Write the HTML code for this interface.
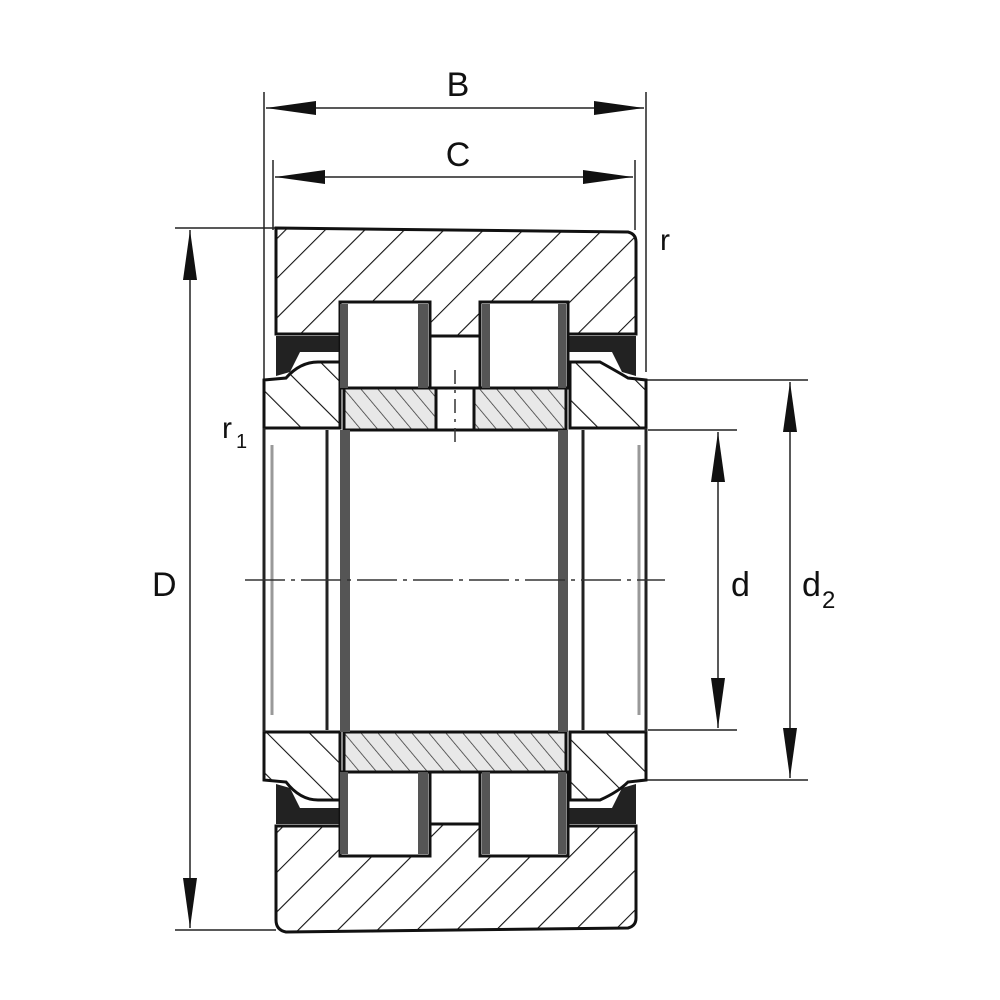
<!DOCTYPE html>
<html><head><meta charset="utf-8"><style>
html,body{margin:0;padding:0;background:#fff;}
svg{display:block;}
text{font-family:"Liberation Sans",sans-serif;fill:#111;}
</style></head><body>
<svg width="1000" height="1000" viewBox="0 0 1000 1000" xmlns="http://www.w3.org/2000/svg">
<defs>
<pattern id="hA" width="28" height="28" patternUnits="userSpaceOnUse" patternTransform="rotate(45)">
<line x1="0" y1="0" x2="0" y2="28" stroke="#111" stroke-width="2.2"/></pattern>
<pattern id="hB" width="30" height="30" patternUnits="userSpaceOnUse" patternTransform="rotate(-45)">
<line x1="0" y1="0" x2="0" y2="30" stroke="#111" stroke-width="2.2"/></pattern>
<pattern id="hC" width="13" height="13" patternUnits="userSpaceOnUse" patternTransform="rotate(-40)">
<rect width="13" height="13" fill="#e8e8e8"/>
<line x1="0" y1="0" x2="0" y2="13" stroke="#333" stroke-width="1.5"/></pattern>
<marker id="ar" viewBox="0 0 50 14" refX="50" refY="7" markerWidth="50" markerHeight="14" markerUnits="userSpaceOnUse" orient="auto-start-reverse">
<path d="M0,0 L50,7 L0,14 Z" fill="#111"/></marker>
</defs>

<!-- dimension lines -->
<g stroke="#222" stroke-width="1.5" fill="none">
<line x1="264" y1="92" x2="264" y2="380"/>
<line x1="646" y1="92" x2="646" y2="372"/>
<line x1="273" y1="160" x2="273" y2="230"/>
<line x1="635" y1="160" x2="635" y2="230"/>
<line x1="266" y1="108" x2="644" y2="108" marker-start="url(#ar)" marker-end="url(#ar)"/>
<line x1="275" y1="177" x2="633" y2="177" marker-start="url(#ar)" marker-end="url(#ar)"/>
<line x1="175" y1="228" x2="276" y2="228"/>
<line x1="175" y1="930" x2="276" y2="930"/>
<line x1="190" y1="230" x2="190" y2="928" marker-start="url(#ar)" marker-end="url(#ar)"/>
<line x1="640" y1="380" x2="808" y2="380"/>
<line x1="640" y1="780" x2="808" y2="780"/>
<line x1="648" y1="430" x2="737" y2="430"/>
<line x1="648" y1="730" x2="737" y2="730"/>
<line x1="790" y1="382" x2="790" y2="778" marker-start="url(#ar)" marker-end="url(#ar)"/>
<line x1="718" y1="432" x2="718" y2="728" marker-start="url(#ar)" marker-end="url(#ar)"/>
</g>

<!-- outer ring top -->
<path d="M276,228 L628,232 Q636,234 636,242 L636,334 L568,334 L568,302 L480,302 L480,336 L430,336 L430,302 L340,302 L340,334 L276,334 Z" fill="url(#hA)" stroke="#111" stroke-width="3"/>
<!-- outer ring bottom -->
<path d="M276,826 L340,826 L340,856 L430,856 L430,824 L480,824 L480,856 L568,856 L568,826 L636,826 L636,918 Q636,926 628,928 L286,932 Q276,930 276,920 Z" fill="url(#hA)" stroke="#111" stroke-width="3"/>

<!-- seals -->
<g fill="#222">
<path d="M276,336 L340,336 L340,352 L300,352 L290,372 L276,376 Z"/>
<path d="M568,336 L636,336 L636,376 L622,372 L612,352 L568,352 Z"/>
<path d="M276,824 L340,824 L340,808 L300,808 L290,788 L276,784 Z"/>
<path d="M568,824 L636,824 L636,784 L622,788 L612,808 L568,808 Z"/>
</g>

<!-- flanges -->
<g fill="url(#hB)" stroke="#111" stroke-width="3">
<path d="M264,380 L286,378 Q300,362 318,362 L340,362 L340,428 L264,428 Z"/>
<path d="M570,362 L600,362 Q618,372 628,378 L646,380 L646,428 L570,428 Z"/>
<path d="M264,732 L340,732 L340,800 L318,800 Q300,800 286,782 L264,780 Z"/>
<path d="M570,732 L646,732 L646,780 L628,782 Q618,792 600,800 L570,800 Z"/>
</g>

<!-- inner ring -->
<g stroke="#111" stroke-width="3">
<rect x="344" y="388" width="92" height="42" fill="url(#hC)"/>
<rect x="474" y="388" width="92" height="42" fill="url(#hC)"/>
<rect x="436" y="388" width="38" height="42" fill="#fff"/>
<rect x="344" y="732" width="222" height="40" fill="url(#hC)"/>
</g>

<!-- rollers -->
<g fill="#fff" stroke="#111" stroke-width="3">
<rect x="340" y="302" width="90" height="86"/>
<rect x="480" y="302" width="88" height="86"/>
<rect x="340" y="772" width="90" height="84"/>
<rect x="480" y="772" width="88" height="84"/>
</g>
<g fill="#555">
<rect x="340" y="304" width="8" height="84"/><rect x="418" y="304" width="10" height="84"/>
<rect x="482" y="304" width="8" height="84"/><rect x="558" y="304" width="8" height="84"/>
<rect x="340" y="772" width="8" height="82"/><rect x="418" y="772" width="10" height="82"/>
<rect x="482" y="772" width="8" height="82"/><rect x="558" y="772" width="8" height="82"/>
</g>

<!-- bore lines -->
<g stroke="#222">
<line x1="264" y1="428" x2="264" y2="732" stroke-width="3"/>
<line x1="272" y1="445" x2="272" y2="715" stroke="#999" stroke-width="3"/>
<line x1="327" y1="430" x2="327" y2="730" stroke-width="3"/>
<line x1="345" y1="430" x2="345" y2="732" stroke="#555" stroke-width="10"/>
<line x1="563" y1="430" x2="563" y2="732" stroke="#555" stroke-width="10"/>
<line x1="583" y1="430" x2="583" y2="730" stroke-width="3"/>
<line x1="639" y1="445" x2="639" y2="715" stroke="#999" stroke-width="3"/>
<line x1="646" y1="428" x2="646" y2="732" stroke-width="3"/>
</g>

<!-- center lines -->
<line x1="245" y1="580" x2="665" y2="580" stroke="#333" stroke-width="1.5" stroke-dasharray="40,6,4,6"/>
<line x1="455" y1="370" x2="455" y2="448" stroke="#333" stroke-width="1.5" stroke-dasharray="14,6,3,6"/>

<!-- labels -->
<text x="458" y="96" font-size="34" text-anchor="middle">B</text>
<text x="458" y="166" font-size="34" text-anchor="middle">C</text>
<text x="660" y="250" font-size="30">r</text>
<text x="222" y="438" font-size="30">r</text>
<text x="236" y="448" font-size="20">1</text>
<text x="152" y="596" font-size="34">D</text>
<text x="731" y="596" font-size="34">d</text>
<text x="802" y="596" font-size="34">d</text>
<text x="822" y="608" font-size="24">2</text>
</svg>
</body></html>
